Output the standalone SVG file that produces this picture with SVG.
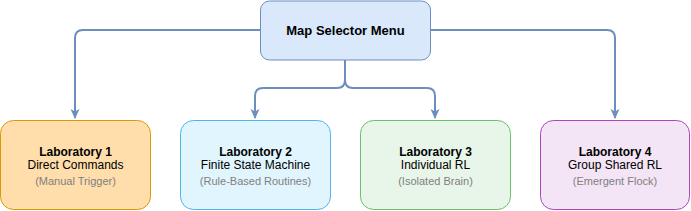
<svg xmlns="http://www.w3.org/2000/svg" width="691" height="211" viewBox="0 0 691 211">
<style>
text{font-family:"Liberation Sans",Arial,sans-serif;text-anchor:middle;font-size:12px;fill:#000}
.b{font-weight:bold}
.s{font-size:11px;fill:#808080}
.e{fill:none;stroke:#6c8ebf;stroke-width:2;stroke-linejoin:round}
</style>
<defs>
<marker id="ah" viewBox="0 0 10 10" refX="9" refY="5" markerWidth="10" markerHeight="10" markerUnits="userSpaceOnUse" orient="auto">
<path d="M0,0.5 L10,5 L0,9.5 L2.5,5 Z" fill="#6c8ebf"/>
</marker>
</defs>
<g id="edges">
<path class="e" d="M260,30 H83 Q75,30 75,38 V118" marker-end="url(#ah)"/>
<path class="e" d="M430,30 H607 Q615,30 615,38 V118" marker-end="url(#ah)"/>
<path class="e" d="M345,60 V80 Q345,88 337,88 H263 Q255,88 255,96 V118" marker-end="url(#ah)"/>
<path class="e" d="M345,60 V80 Q345,88 353,88 H427 Q435,88 435,96 V118" marker-end="url(#ah)"/>
</g>
<g id="menu">
<rect x="260.5" y="1" width="170" height="59" rx="9" fill="#dae8fc" stroke="#6c8ebf"/>
<text class="b" x="345.5" y="35" style="font-size:13px">Map Selector Menu</text>
</g>
<g id="lab1">
<rect x="0.5" y="120.5" width="150" height="89" rx="13" fill="#ffdeab" stroke="#d79b00"/>
<text class="b" x="75.5" y="156">Laboratory 1</text>
<text x="75.5" y="169">Direct Commands</text>
<text class="s" x="75.5" y="185">(Manual Trigger)</text>
</g>
<g id="lab2">
<rect x="180.5" y="120.5" width="150" height="89" rx="13" fill="#e1f5fe" stroke="#4fb3ec"/>
<text class="b" x="255.5" y="156">Laboratory 2</text>
<text x="255.5" y="169">Finite State Machine</text>
<text class="s" x="255.5" y="185">(Rule-Based Routines)</text>
</g>
<g id="lab3">
<rect x="360.5" y="120.5" width="150" height="89" rx="13" fill="#e8f5e9" stroke="#6abf69"/>
<text class="b" x="435.5" y="156">Laboratory 3</text>
<text x="435.5" y="169">Individual RL</text>
<text class="s" x="435.5" y="185">(Isolated Brain)</text>
</g>
<g id="lab4">
<rect x="540.5" y="120.5" width="149" height="89" rx="13" fill="#f3e5f5" stroke="#ab47bc"/>
<text class="b" x="615" y="156">Laboratory 4</text>
<text x="615" y="169">Group Shared RL</text>
<text class="s" x="615" y="185">(Emergent Flock)</text>
</g>
</svg>
